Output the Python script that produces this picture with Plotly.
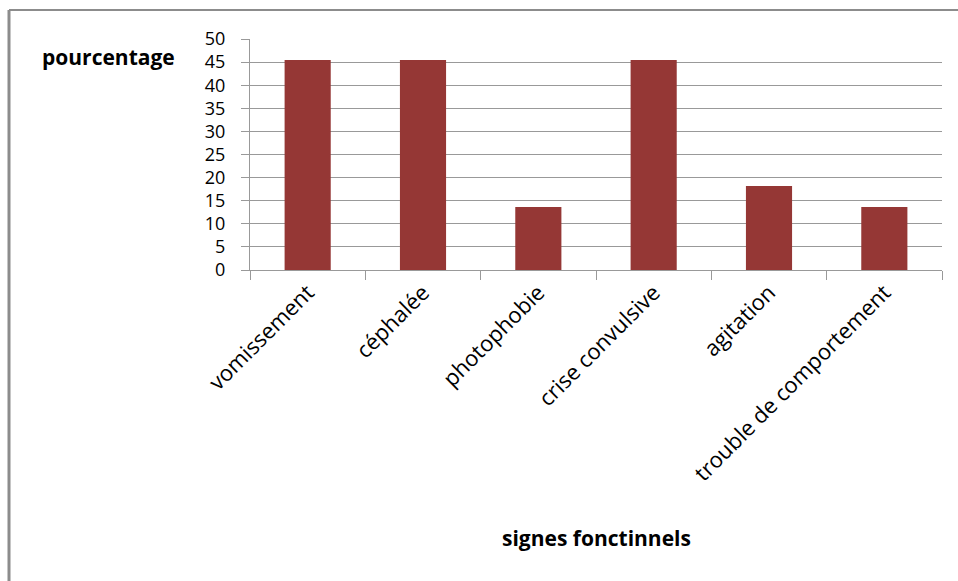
import plotly.graph_objects as go

# Signes fonctionnels (%)
categories = ["vomissement", "céphalée", "photophobie", "crise convulsive",
              "agitation", "trouble de comportement"]
percentages = [45.45, 45.45, 13.64, 45.45, 18.18, 13.64]
y_ticks = list(range(0, 55, 5))

FONT = "Open Sans, Lato, sans-serif"
W, H = 958, 581
M_L, M_R, M_T, M_B = 250, 16, 39, 311
plot_w = W - M_L - M_R
plot_h = H - M_T - M_B


def px_to_paper_x(px):
    return (px - M_L) / plot_w


def px_to_paper_y(py):
    return (H - M_B - py) / plot_h


fig = go.Figure(
    go.Bar(
        x=categories,
        y=percentages,
        marker=dict(color="#953735", line=dict(width=0)),
        hoverinfo="x+y",
    )
)

fig.update_layout(
    width=W,
    height=H,
    margin=dict(l=M_L, r=M_R, t=M_T, b=M_B),
    paper_bgcolor="white",
    plot_bgcolor="white",
    bargap=0.6,
    showlegend=False,
    font=dict(family=FONT, color="#000000"),
)

fig.update_yaxes(
    range=[0, 50],
    tickvals=y_ticks,
    ticktext=[str(v) for v in y_ticks],
    tickfont=dict(size=18, color="#000000"),
    showgrid=True,
    gridcolor="#999999",
    gridwidth=1,
    zeroline=False,
    showline=True,
    linecolor="#999999",
    linewidth=1,
    ticks="outside",
    ticklen=8,
    tickcolor="#999999",
    ticklabelstandoff=12,
)

fig.update_xaxes(
    type="category",
    tickangle=-45,
    tickfont=dict(size=22, color="#000000"),
    showline=True,
    linecolor="#999999",
    linewidth=1,
    ticks="outside",
    tickson="boundaries",
    ticklen=9,
    tickcolor="#999999",
    showgrid=False,
)

# Axis titles
fig.add_annotation(
    text="<b>pourcentage</b>",
    xref="paper", yref="paper",
    x=px_to_paper_x(108), y=px_to_paper_y(57),
    xanchor="center", yanchor="middle",
    showarrow=False,
    font=dict(size=21, family=FONT, color="#000000"),
)
fig.add_annotation(
    text="<b>signes fonctinnels</b>",
    xref="paper", yref="paper",
    x=px_to_paper_x(596), y=px_to_paper_y(538),
    xanchor="center", yanchor="middle",
    showarrow=False,
    font=dict(size=21, family=FONT, color="#000000"),
)

# Chart frame (top and left edges)
fig.add_shape(
    type="line", xref="paper", yref="paper",
    x0=px_to_paper_x(9), x1=px_to_paper_x(958),
    y0=px_to_paper_y(10), y1=px_to_paper_y(10),
    line=dict(color="#8c8c8c", width=2),
)
fig.add_shape(
    type="line", xref="paper", yref="paper",
    x0=px_to_paper_x(9), x1=px_to_paper_x(9),
    y0=px_to_paper_y(10), y1=px_to_paper_y(581),
    line=dict(color="#8c8c8c", width=3),
)

fig.write_html("out.html")
